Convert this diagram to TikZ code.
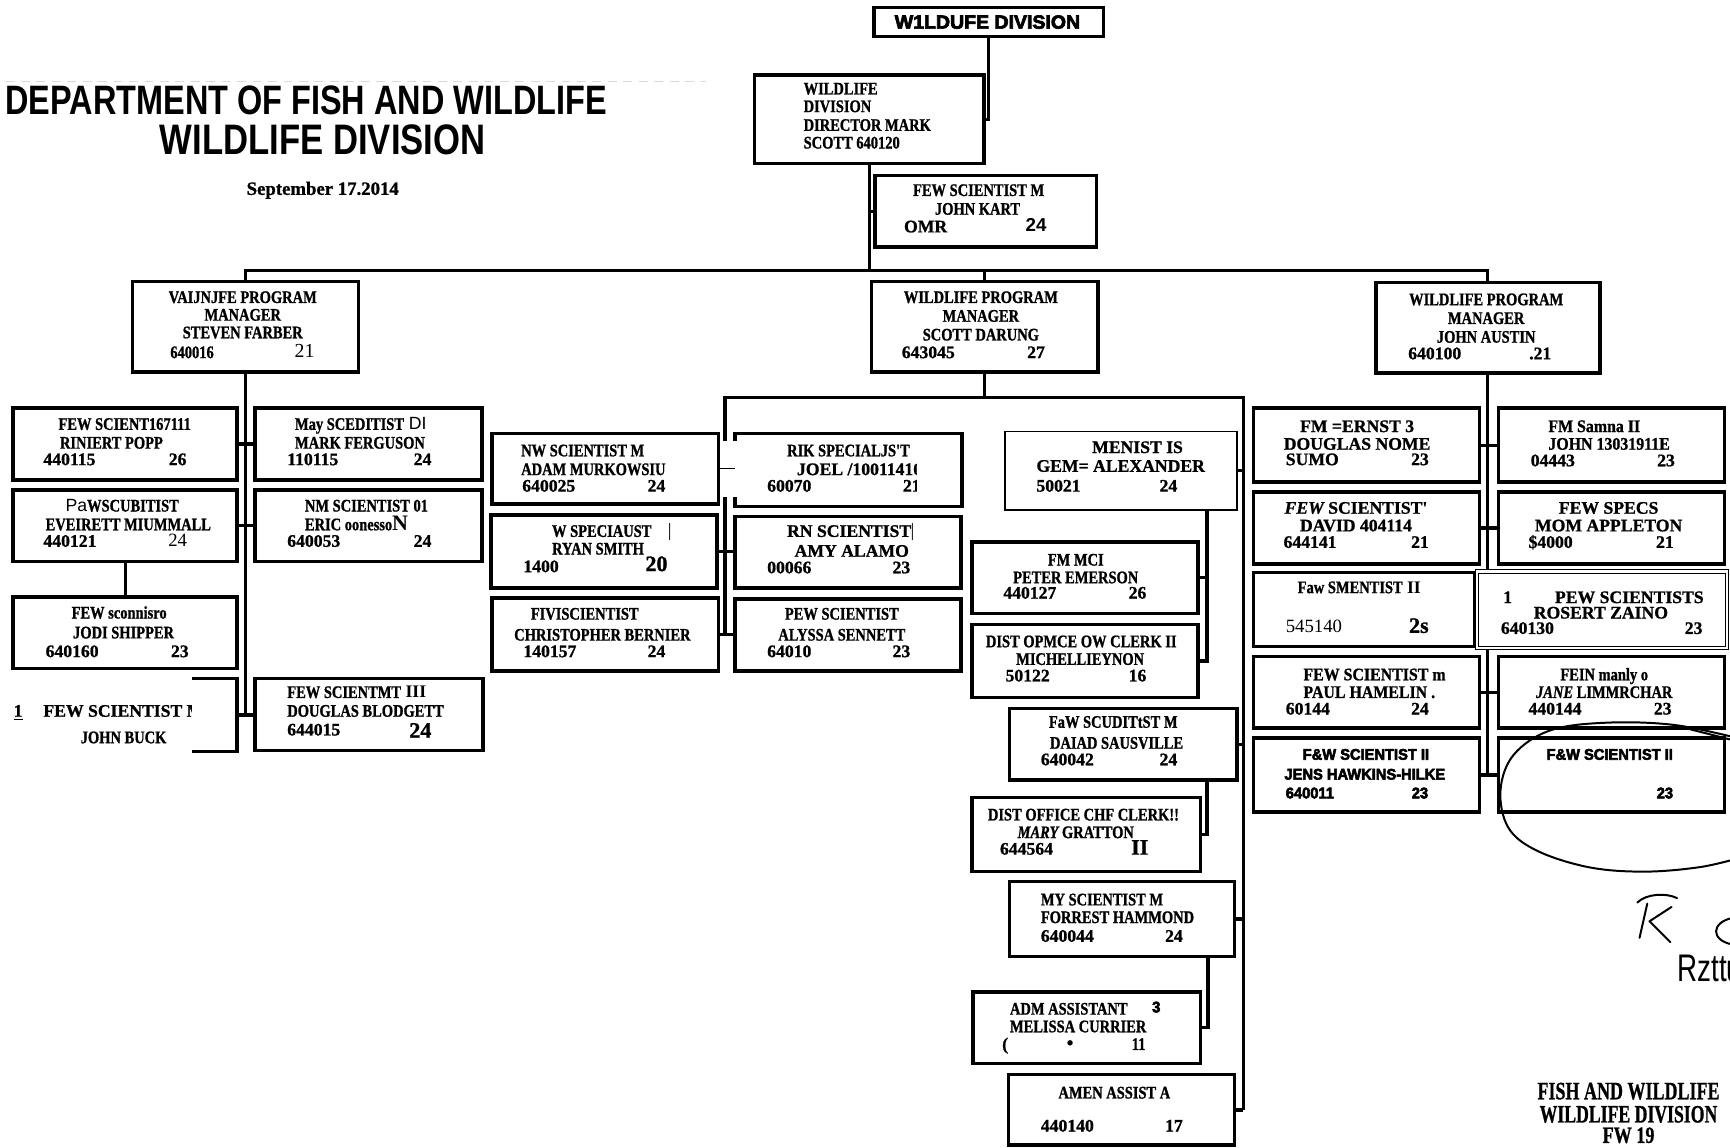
\documentclass[tikz,border=0pt]{standalone}
\usepackage{fontspec}
\setmainfont{Liberation Serif}
\setsansfont{Liberation Sans}
\newfontfamily\fC{Liberation Serif}[FakeStretch=0.82,FakeBold=1]
\newfontfamily\fM{Liberation Serif}[FakeStretch=0.9,FakeBold=1]
\newfontfamily\fN{Liberation Serif}[FakeBold=1]
\newfontfamily\fR{Liberation Serif}
\newfontfamily\fS{Liberation Sans}
\newfontfamily\fH{Liberation Sans}[FakeStretch=0.95,FakeBold=3.5]
\pgfdeclarelayer{bg}
\pgfsetlayers{bg,main}
\tikzset{
 obox/.style={draw, line width=1.6pt, fill=white, inner sep=0pt, outer sep=0pt},
 thinbox/.style={draw, line width=0.7pt, fill=white, inner sep=0pt, outer sep=0pt},
 dbox/.style={draw, line width=0.45pt, double, double distance=1pt, fill=white, inner sep=0pt, outer sep=0pt},
 conn/.style={line width=1.5pt},
 tx/.style={inner sep=0pt, font=\fC\bfseries\fontsize{8}{8}\selectfont},
 tn/.style={tx, font=\fN\bfseries\fontsize{8}{8}\selectfont},
 tm/.style={tx, font=\fM\bfseries\fontsize{8}{8}\selectfont},
 th/.style={tx, font=\fH\bfseries\fontsize{7}{7}\selectfont},
 sb/.style={tx, font=\fS\bfseries\fontsize{8.5}{8.5}\selectfont},
 rg/.style={tx, font=\fR\fontsize{8.5}{8.5}\selectfont},
 big/.style={tx, font=\fN\bfseries\fontsize{10}{10}\selectfont},
 ink/.style={line width=0.9pt, line cap=round, line join=round},
}
\newcommand\bx[6][obox]{\node[#1,minimum width={(#5-#3)*0.5pt},minimum height={(#6-#4)*0.5pt}] (#2) at ({(#3+#5)/2},{(#4+#6)/2}) {};}
\newcommand\tc[4][tx]{\node[#1,anchor=mid] (#2) at (#3) {#4};}
\newcommand\tl[4][tx]{\node[#1,anchor=mid west] (#2) at (#3) {#4};}
\begin{document}
\begin{tikzpicture}[x=0.5pt,y=-0.5pt]
\useasboundingbox (0,0) rectangle (1568,1040);
\clip (0,0) rectangle (1568,1040);
\begin{pgfonlayer}{bg}\fill[white] (0,0) rectangle (1568,1040);\end{pgfonlayer}

% ---------- boxes ----------
\bx{topb}{792}{7}{1000}{33}
\bx{dir}{684}{68}{892}{148}
\bx{kart}{793}{159}{994}{224}
\bx{lmgr}{120}{255}{325}{337}
\bx{mmgr}{790}{255}{995}{337}
\bx{rmgr}{1247}{256}{1450}{338}
\bx{L1}{12}{370}{215}{435}
\bx{R1}{231}{370}{437}{435}
\bx{L2}{12}{444}{215}{509}
\bx{R2}{231}{444}{437}{509}
\bx{L3}{12}{541}{215}{606}
\bx{L4}{10}{615}{215}{681}
\bx{R4}{231}{615}{438}{680}
\bx{ML1}{446}{393}{651}{457}
\bx{MR1}{666}{393}{872}{459}
\bx{ML2}{445}{467}{650}{533}
\bx{MR2}{666}{468}{871}{533}
\bx{ML3}{446}{542}{651}{608}
\bx{MR3}{666}{543}{871}{608}
\bx[thinbox]{C0}{911}{391}{1121}{462}
\bx{C1}{881}{491}{1086}{556}
\bx{C2}{881}{566}{1086}{632}
\bx{C3}{915}{642}{1121}{707}
\bx{C4}{881}{723}{1088}{790}
\bx{C5}{915}{799}{1119}{867}
\bx{C6}{882}{899}{1088}{964}
\bx{C7}{914}{974}{1119}{1038}
\bx{RL1}{1136}{370}{1341}{437}
\bx{RR1}{1358}{370}{1563}{437}
\bx{RL2}{1136}{446}{1341}{511}
\bx{RR2}{1358}{446}{1563}{511}
\bx{RL3}{1136}{519}{1337}{586}
\bx[dbox]{RR3}{1339}{518}{1565}{587}
\bx{RL4}{1136}{595}{1341}{660}
\bx{RR4}{1358}{595}{1563}{660}
\bx{RL5}{1136}{669}{1341}{736}
\bx{RR5}{1358}{669}{1563}{736}

% ---------- connectors ----------
\coordinate (bar) at (0,245);
\coordinate (mb) at (0,360);
\coordinate (mvL) at (657,0);
\coordinate (mvR) at (1127,0);
\coordinate (v1) at (1094,0);
\coordinate (v3) at (1095,0);
\begin{pgfonlayer}{bg}
\draw[conn] (topb.south) |- (dir.east);
\draw[conn] (dir.south) -- (dir.south |- bar);
\draw[conn] (dir.south |- kart.west) -- (kart.west);
\draw[conn] (lmgr.north) -- (lmgr.north |- bar) -- (rmgr.north |- bar) -- (rmgr.north);
\draw[conn] (mmgr.north) -- (mmgr.north |- bar);
\draw[conn] (lmgr.south) -- (lmgr.south |- L4.east);
\draw[conn] (L1.east) -- (R1.west);
\draw[conn] (L2.east) -- (R2.west);
\draw[conn] (L4.east) -- (L4.east -| R4.west);
\draw[conn] (L2.south) -- (L3.north);
\draw[conn] (mmgr.south) -- (mmgr.south |- mb);
\draw[conn] (ML3.east -| mvL) -- (mvL |- mb) -- (mvR |- mb) -- (C7.east -| mvR);
\draw[conn] (ML2.east) -- (ML2.east -| MR2.west);
\draw[conn] (ML3.east) -- (ML3.east -| MR3.west);
\draw[conn] (C0.east) -- (C0.east -| mvR);
\draw[conn] (C3.east) -- (C3.east -| mvR);
\draw[conn] (C5.east) -- (C5.east -| mvR);
\draw[conn] (C7.east) -- (C7.east -| mvR);
\draw[conn] (C0.south -| v1) -- (C2.east -| v1) -- (C2.east);
\draw[conn] (C1.east) -- (C1.east -| v1);
\draw[conn] (C3.south -| v1) -- (C4.east -| v1) -- (C4.east);
\draw[conn] (C5.south -| v3) -- (C6.east -| v3) -- (C6.east);
\draw[conn] (rmgr.south) -- (rmgr.south |- RL5.east);
\draw[conn] (RL1.east) -- (RR1.west);
\draw[conn] (RL2.east) -- (RR2.west);
\draw[conn] (RL4.east) -- (RR4.west);
\draw[conn] (RL5.east) -- (RR5.west);
\end{pgfonlayer}

% patches
\fill[white] (653,400) rectangle (669,450);
\draw[line width=0.5pt] (ML1.east) -- (ML1.east -| MR1.west);
\fill[white] (6,612) rectangle (174,692);

% ---------- titles ----------
\draw[gray!30, line width=0.4pt, dash pattern=on 4pt off 3pt] (5,74) -- (640,74);
\node[inner sep=0pt] (t1) at (277.5,91) {\resizebox{272.5pt}{13pt}{\fS\bfseries DEPARTMENT OF FISH AND WILDLIFE}};
\node[inner sep=0pt] (t2) at (292.5,126.5) {\resizebox{147.5pt}{13.5pt}{\fS\bfseries WILDLIFE DIVISION}};
\node[tn, font=\fN\bfseries\fontsize{8.5}{8.5}\selectfont, anchor=mid] (date) at (292.5,172) {September 17.2014};
\node[inner sep=0pt] (topt) at (895,20) {\resizebox{84pt}{6pt}{\fH\bfseries W1LDUFE DIVISION}};

% director
\tl{dira}{728,81}{WILDLIFE}
\tl{dirb}{728,97}{DIVISION}
\tl{dirc}{728,114}{DIRECTOR MARK}
\tl{dird}{728,130}{SCOTT 640120}
% kart
\tc{kta}{887,173}{FEW SCIENTIST M}
\tc{ktb}{886,190}{JOHN KART}
\tl[tn]{ktc}{819,206}{OMR}
\tc[sb]{ktd}{939,205}{24}
% managers
\tc{lma}{220,270}{VAIJNJFE PROGRAM}
\tc{lmb}{220,286}{MANAGER}
\tc{lmc}{220,302}{STEVEN FARBER}
\tl{lmd}{154,320}{640016}
\tc[tx,font=\fR\fontsize{9}{9}\selectfont]{lme}{276,319}{21}
\tc{mma}{889,270}{WILDLIFE PROGRAM}
\tc{mmb}{889,287}{MANAGER}
\tc{mmc}{889,304}{SCOTT DARUNG}
\tl[tn]{mmd}{817,320}{643045}
\tc[tn]{mme}{939,320}{27}
\tc{rma}{1347,272}{WILDLIFE PROGRAM}
\tc{rmb}{1347,289}{MANAGER}
\tc{rmc}{1347,306}{JOHN AUSTIN}
\tl[tn]{rmd}{1276,321}{640100}
\tc[tn]{rme}{1396,321}{.21}

% left group
\tc{L1a}{113,385}{FEW SCIENT167111}
\tc{L1b}{101,402}{RINIERT POPP}
\tl[tn]{L1c}{39,417}{440115}
\tc[tn]{L1d}{161,417}{26}
\tl{R1a}{267,385}{May SCEDITIST{\fS\mdseries\ DI}}
\tl{R1b}{267,402}{MARK FERGUSON}
\tl[tn]{R1c}{260,417}{110115}
\tc[tn]{R1d}{383,417}{24}
\tl{L2a}{59,459}{{\fS\mdseries Pa}WSCUBITIST}
\tl{L2b}{41,476}{EVEIRETT MIUMMALL}
\tl[tn]{L2c}{39,491}{440121}
\tc[rg]{L2d}{161,491}{24}
\tl{R2a}{276,459}{NM SCIENTIST 01}
\tl{R2b}{276,476}{ERIC oonesso{\fR\fontsize{10}{10}\selectfont N}}
\tl[tn]{R2c}{260,491}{640053}
\tc[tn]{R2d}{383,491}{24}
\tc{L3a}{108,556}{FEW sconnisro}
\tc{L3b}{112,574}{JODI SHIPPER}
\tl[tn]{L3c}{41,591}{640160}
\tc[tn]{L3d}{163,591}{23}
\begin{scope}
\clip (6,612) rectangle (174,692);
\tl[tn]{L4a}{12,645}{\underline{1}}
\tl[tn]{L4b}{39,645}{FEW SCIENTIST M}
\tc{L4c}{112,669}{JOHN BUCK}
\end{scope}
\tl{R4a}{260,628}{FEW SCIENTMT{\fR\ III}}
\tl{R4b}{260,645}{DOUGLAS BLODGETT}
\tl[tn]{R4c}{260,662}{644015}
\tc[big]{R4d}{381,664}{24}

% middle group
\tl{M1a}{472,409}{NW SCIENTIST M}
\tl{M1b}{472,426}{ADAM MURKOWSIU}
\tl[tn]{M1c}{473,441}{640025}
\tc[tn]{M1d}{595,441}{24}
\begin{scope}
\clip (660,390) rectangle (831,462);
\tc{N1a}{769,409}{RIK SPECIALJS'T}
\tl[tn]{N1b}{722,426}{JOEL /10011410}
\tl[tn]{N1c}{695,441}{60070}
\tl[tn]{N1d}{818,441}{21}
\end{scope}
\tl{M2a}{500,482}{W SPECIAUST}
\tc[rg]{M2e}{607,482}{|}
\tl{M2b}{500,498}{RYAN SMITH}
\tl[tn]{M2c}{474,514}{1400}
\tc[big]{M2d}{595,513}{20}
\tl[tn]{N2a}{713,482}{RN SCIENTIST}
\tc[rg]{N2e}{827,482}{|}
\tc[tn]{N2b}{772,500}{AMY ALAMO}
\tl[tn]{N2c}{695,515}{00066}
\tc[tn]{N2d}{817,515}{23}
\tc{M3a}{530,557}{FIVISCIENTIST}
\tc{M3b}{546,576}{CHRISTOPHER BERNIER}
\tl[tn]{M3c}{474,591}{140157}
\tc[tn]{M3d}{595,591}{24}
\tc{N3a}{763,557}{PEW SCIENTIST}
\tc{N3b}{763,576}{ALYSSA SENNETT}
\tl[tn]{N3c}{695,591}{64010}
\tc[tn]{N3d}{817,591}{23}

% clerk column
\tc[tn]{C0a}{1031,406}{MENIST IS}
\tl[tn]{C0b}{939,423}{GEM= ALEXANDER}
\tl[tn]{C0c}{939,441}{50021}
\tc[tn]{C0d}{1059,441}{24}
\tc{C1a}{975,508}{FM MCI}
\tc{C1b}{975,524}{PETER EMERSON}
\tl[tn]{C1c}{909,538}{440127}
\tc[tn]{C1d}{1031,538}{26}
\tc{C2a}{980,582}{DIST OPMCE OW CLERK II}
\tc{C2b}{979,598}{MICHELLIEYNON}
\tl[tn]{C2c}{911,613}{50122}
\tc[tn]{C2d}{1031,613}{16}
\tc{C3a}{1009,655}{FaW SCUDITtST M}
\tc{C3b}{1012,674}{DAIAD SAUSVILLE}
\tl[tn]{C3c}{943,689}{640042}
\tc[tn]{C3d}{1059,689}{24}
\tc{C4a}{982,739}{DIST OFFICE CHF CLERK!!}
\tc{C4b}{975,755}{\itshape MARY\upshape\ GRATTON}
\tl[tn]{C4c}{906,770}{644564}
\tc[big]{C4d}{1033,770}{II}
\tl{C5a}{943,816}{MY SCIENTIST M}
\tl{C5b}{943,832}{FORREST HAMMOND}
\tl[tn]{C5c}{943,849}{640044}
\tc[tn]{C5d}{1064,849}{24}
\tl{C6a}{915,915}{ADM ASSISTANT}
\tc[th]{C6e}{1048,913}{3}
\tl{C6b}{915,931}{MELISSA CURRIER}
\tc[tn]{C6c}{911,947}{(}
\tc[sb]{C6f}{970,947}{•}
\tc{C6d}{1032,947}{11}
\tc{C7a}{1010,991}{AMEN ASSIST A}
\tl[tn]{C7c}{943,1021}{440140}
\tc[tn]{C7d}{1064,1021}{17}

% right group
\tc[tn]{P1a}{1230,387}{FM =ERNST 3}
\tc[tn]{P1b}{1230,403}{DOUGLAS NOME}
\tl[tn]{P1c}{1165,417}{SUMO}
\tc[tn]{P1d}{1287,417}{23}
\tl[tm]{Q1a}{1403,387}{FM Samna II}
\tl[tm]{Q1b}{1403,403}{JOHN 13031911E}
\tl[tn]{Q1c}{1387,418}{04443}
\tc[tn]{Q1d}{1510,418}{23}
\tc[tn]{P2a}{1229,461}{\itshape FEW\upshape\ SCIENTIST'}
\tc[tn]{P2b}{1229,477}{DAVID 404114}
\tl[tn]{P2c}{1163,492}{644141}
\tc[tn]{P2d}{1287,492}{21}
\tc[tn]{Q2a}{1458,461}{FEW SPECS}
\tc[tn]{Q2b}{1458,477}{MOM APPLETON}
\tl[tn]{Q2c}{1385,492}{\$4000}
\tc[tn]{Q2d}{1509,492}{21}
\tc{P3a}{1232,533}{Faw SMENTIST{\fR\ II}}
\tl[rg]{P3c}{1165,569}{545140}
\tc[big]{P3d}{1286,569}{2s}
\tl[tn]{Q3e}{1362,542}{1}
\tl[tn]{Q3a}{1409,542}{PEW SCIENTISTS}
\tc[tn]{Q3b}{1451,556}{ROSERT ZAINO}
\tl[tn]{Q3c}{1360,570}{640130}
\tc[tn]{Q3d}{1535,570}{23}
\tl[tm]{P4a}{1181,612}{FEW SCIENTIST m}
\tl[tm]{P4b}{1181,628}{PAUL HAMELIN .}
\tl[tn]{P4c}{1165,643}{60144}
\tc[tn]{P4d}{1287,643}{24}
\tc{Q4a}{1454,612}{FEIN manly o}
\tc{Q4b}{1454,628}{\itshape JANE\upshape\ LIMMRCHAR}
\tl[tn]{Q4c}{1385,643}{440144}
\tc[tn]{Q4d}{1507,643}{23}
\tc[th]{P5a}{1238,684}{F\&W SCIENTIST II}
\tc[th]{P5b}{1237,702}{JENS HAWKINS-HILKE}
\tl[th]{P5c}{1165,719}{640011}
\tc[th]{P5d}{1287,719}{23}
\tc[th]{Q5a}{1459,684}{F\&W SCIENTIST II}
\tc[th]{Q5d}{1509,719}{23}

% ---------- hand marks ----------
\draw[ink] plot[smooth, tension=0.6] coordinates {(1575,669) (1517,657) (1456,655) (1405,662) (1372,684) (1360,716) (1367,750) (1393,771) (1440,786) (1490,790) (1540,786) (1575,778)};
\draw[ink] (1532,661) -- (1575,672);
\draw[ink] (1484,818) .. controls (1492,810) and (1510,809) .. (1520,814);
\draw[ink] (1493,819) -- (1486,850);
\draw[ink] (1515,822) -- (1495,835) -- (1514,854);
\draw[ink] (1570,832) .. controls (1551,836) and (1550,852) .. (1570,856);
\node[inner sep=0pt, anchor=west] (rz) at (1520,878) {\resizebox{29.4pt}{12pt}{\fS Rzttu}};

% bottom right
\node[inner sep=0pt] (fw1) at (1476,989) {\resizebox{82.5pt}{7.5pt}{\fN\bfseries FISH AND WILDLIFE}};
\node[inner sep=0pt] (fw2) at (1476,1010) {\resizebox{80.5pt}{7.5pt}{\fN\bfseries WILDLIFE DIVISION}};
\node[inner sep=0pt] (fw3) at (1476,1029) {\resizebox{23.5pt}{7pt}{\fN\bfseries FW 19}};
\end{tikzpicture}
\end{document}
